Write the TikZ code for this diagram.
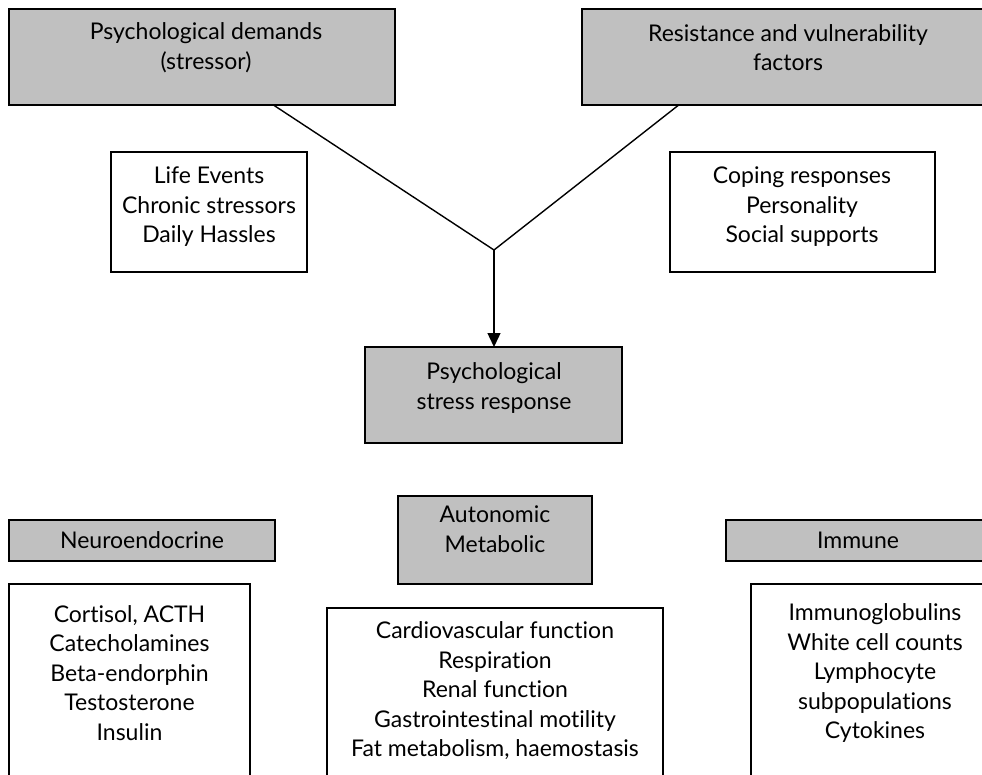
\documentclass[tikz,border=0pt]{standalone}
\usepackage{fontspec}
\setmainfont{Lato}[Ligatures={NoCommon,NoContextual}]
\usetikzlibrary{arrows.meta,calc}
\definecolor{boxgray}{HTML}{C0C0C0}
\tikzset{
  frame/.style={draw=black, line width=1.4pt, inner sep=0pt, outer sep=0pt},
  graybox/.style={frame, fill=boxgray},
  whitebox/.style={frame, fill=white},
  txt/.style={align=center, inner sep=0pt, font=\fontsize{23}{29.5}\selectfont},
  link/.style={line width=1.4pt},
  arrowlink/.style={link, -{Triangle[length=14pt,width=13pt]}}
}
% rectangle given by its corners (x1,y1) and (x2,y2), y pointing down
\newcommand{\boxat}[6]{%
  \node[#1, minimum width={(#5)-(#3)}, minimum height={(#6)-(#4)}]
    (#2) at ({((#3)+(#5))/2},{((#4)+(#6))/2}) {};}
\begin{document}
\begin{tikzpicture}[x=1pt,y=-1pt]
  \useasboundingbox (0,0) rectangle (982,774);
  \clip (0,0) rectangle (982,774);
  \fill[white] (0,0) rectangle (982,774);

  % top row: stressor and moderating factors
  \boxat{graybox}{dem}{9}{9}{395}{105}
  \boxat{graybox}{res}{582}{9}{990}{105}
  \node[txt] (demT) at (206,47.5) {Psychological demands\\(stressor)};
  \node[txt] (resT) at (788,47.5) {Resistance and vulnerability\\factors};

  \boxat{whitebox}{life}{111}{152}{307}{272}
  \boxat{whitebox}{cope}{670}{152}{935}{272}
  \node[txt] (lifeT) at (209,207) {Life Events\\Chronic stressors\\Daily Hassles};
  \node[txt] (copeT) at (802,207) {Coping responses\\Personality\\Social supports};

  % central response
  \boxat{graybox}{psr}{365}{347}{622}{443}
  \node[txt] (psrT) at (494,388) {Psychological\\stress response};

  % converging connectors
  \coordinate (dl) at ($(dem.south west)!0.685!(dem.south east)$);
  \coordinate (rl) at ($(res.south west)!0.237!(res.south east)$);
  \coordinate (j) at (494,250);
  \draw[link, line join=miter] (dl) -- (j) -- (rl);
  \draw[arrowlink] (j) -- (psr.north -| j);

  % response systems
  \boxat{graybox}{neuro}{9}{520}{275}{561}
  \boxat{graybox}{auto}{398}{496}{592}{584}
  \boxat{graybox}{imm}{726}{520}{990}{561}
  \node[txt] (neuroT) at (142,540) {Neuroendocrine};
  \node[txt] (autoT) at (495,529) {Autonomic\\Metabolic};
  \node[txt] (immT) at (858,540) {Immune};

  \boxat{whitebox}{cort}{9}{584}{250}{790}
  \boxat{whitebox}{mid}{327}{608}{663}{790}
  \boxat{whitebox}{immlist}{751}{584}{999}{790}
  \node[txt] (cortT) at (129.5,673) {Cortisol, ACTH\\Catecholamines\\Beta-endorphin\\Testosterone\\Insulin};
  \node[txt] (midT) at (495,691) {Cardiovascular function\\Respiration\\Renal function\\Gastrointestinal motility\\Fat metabolism, haemostasis};
  \node[txt] (immlistT) at (875,673) {Immunoglobulins\\White cell counts\\Lymphocyte\\subpopulations\\Cytokines};
\end{tikzpicture}
\end{document}
